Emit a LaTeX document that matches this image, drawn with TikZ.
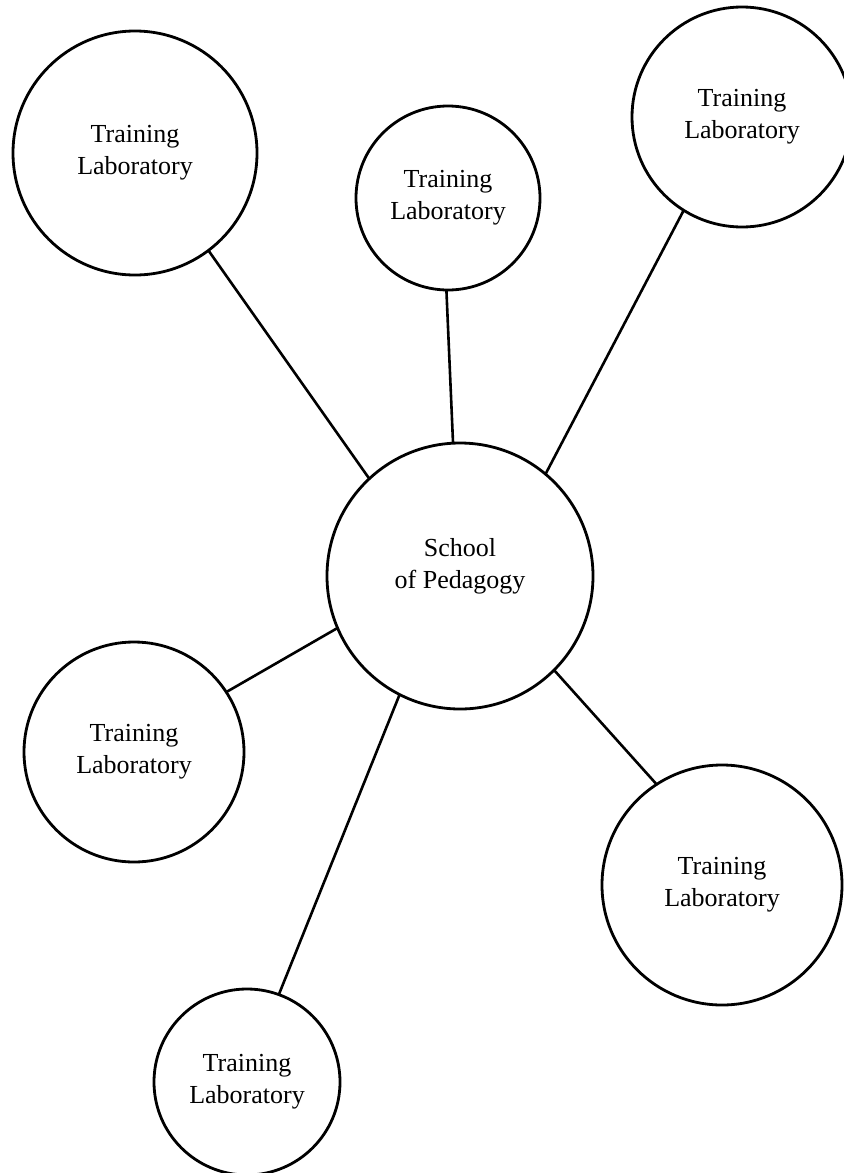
\documentclass[tikz,border=0pt]{standalone}
\usepackage{fontspec}
\setmainfont{Liberation Serif}
\begin{document}
\begin{tikzpicture}[x=0.5pt,y=-0.5pt,
  lab/.style={circle,draw,line width=1.4pt,inner sep=0pt,outer sep=0pt,align=center,
    font=\fontsize{13}{16}\selectfont},
  txt/.style={align=center,inner sep=0pt,font=\fontsize{13}{16}\selectfont},
  link/.style={line width=1.3pt}]
\useasboundingbox (0,0) rectangle (844,1173);
\node[lab,minimum size=122pt] (tl) at (135,153) {Training\\Laboratory};
\node[lab,minimum size=92pt] (tm) at (448,198) {Training\\Laboratory};
\node[lab,minimum size=110pt] (tr) at (742,117) {Training\\Laboratory};
\node[lab,minimum size=133pt] (sp) at (460,576) {};
\node[txt] (sptext) at (460,566) {School\\of Pedagogy};
\node[lab,minimum size=110pt] (lm) at (134,752) {Training\\Laboratory};
\node[lab,minimum size=120pt] (rb) at (722,885) {Training\\Laboratory};
\node[lab,minimum size=93pt] (bt) at (247,1082) {Training\\Laboratory};
\draw[link] (tl.-53.5) -- (sp.133.5);
\draw[link] (tm.-91) -- (sp.93.4);
\draw[link] (tr.-122.5) -- (sp.50.7);
\draw[link] (lm.33.3) -- (sp.-157.4);
\draw[link] (bt.70.7) -- (sp.-117.5);
\draw[link] (rb.123.7) -- (sp.-45.3);
\end{tikzpicture}
\end{document}
